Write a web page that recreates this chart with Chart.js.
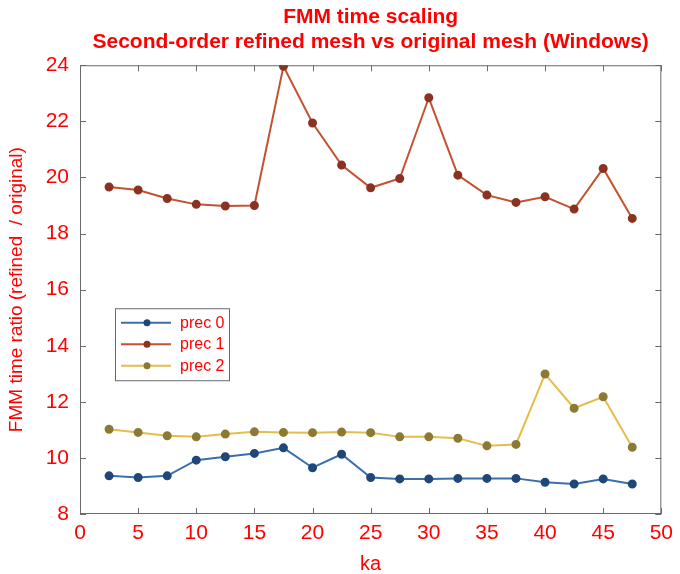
<!DOCTYPE html>
<html>
<head>
<meta charset="utf-8">
<script src="https://cdn.jsdelivr.net/npm/chart.js@4/dist/chart.umd.min.js"></script>
<style>
  html, body { margin: 0; padding: 0; background: #fff; }
  #wrap { width: 680px; height: 574px; }
</style>
</head>
<body>
<div id="wrap"><canvas id="fmm"></canvas></div>
<script>
"use strict";

// ka values (x) and time ratio refined/original for each precision
const ka = [2.5, 5, 7.5, 10, 12.5, 15, 17.5, 20, 22.5, 25, 27.5, 30, 32.5, 35, 37.5, 40, 42.5, 45, 47.5];
const prec0 = [9.36, 9.30, 9.36, 9.92, 10.04, 10.16, 10.36, 9.65, 10.13, 9.30, 9.25, 9.25, 9.27, 9.27, 9.27, 9.13, 9.07, 9.25, 9.07];
const prec1 = [19.66, 19.55, 19.25, 19.04, 18.98, 19.0, 23.96, 21.94, 20.44, 19.63, 19.96, 22.84, 20.08, 19.37, 19.11, 19.31, 18.87, 20.32, 18.54];
const prec2 = [11.02, 10.91, 10.79, 10.75, 10.85, 10.93, 10.91, 10.90, 10.92, 10.90, 10.75, 10.75, 10.70, 10.43, 10.48, 12.99, 11.77, 12.18, 10.38];

const seriesNames = ["prec 0", "prec 1", "prec 2"];
const xTicks = [0, 5, 10, 15, 20, 25, 30, 35, 40, 45, 50];
const yTicks = [8, 10, 12, 14, 16, 18, 20, 22, 24];

const LINE = ["#3a6fae", "#c4512f", "#e6bd4a"];
const DOT = ["#1f4778", "#8a3322", "#8c7a34"];
const RED = "#ff0000";
const FONT = "'Liberation Sans', Arial, Helvetica, sans-serif";

function series(i, values) {
  return {
    label: seriesNames[i],
    data: ka.map((x, k) => ({ x, y: values[k] })),
    borderColor: LINE[i],
    backgroundColor: DOT[i],
    pointBackgroundColor: DOT[i],
    pointBorderColor: DOT[i],
    borderWidth: 2,
    pointRadius: 3.5,
    tension: 0,
  };
}

// box around the plot with short inward ticks on all four sides
const axesBox = {
  id: "axesBox",
  beforeDatasetsDraw(chart) {
    const { ctx, chartArea: a, scales } = chart;
    ctx.save();
    ctx.strokeStyle = "#6a6a6a";
    ctx.lineWidth = 1;
    ctx.strokeRect(a.left + 0.5, a.top + 0.5, a.right - a.left - 1, a.bottom - a.top - 1);
    ctx.beginPath();
    const len = 6;
    xTicks.forEach((v) => {
      const px = Math.round(scales.x.getPixelForValue(v)) + 0.5;
      ctx.moveTo(px, a.bottom); ctx.lineTo(px, a.bottom - len);
      ctx.moveTo(px, a.top); ctx.lineTo(px, a.top + len);
    });
    yTicks.forEach((v) => {
      const py = Math.round(scales.y.getPixelForValue(v)) + 0.5;
      ctx.moveTo(a.left, py); ctx.lineTo(a.left + len, py);
      ctx.moveTo(a.right, py); ctx.lineTo(a.right - len, py);
    });
    ctx.stroke();
    ctx.restore();
  },
};

// legend box sitting inside the plot, left of centre
const insideLegend = {
  id: "insideLegend",
  afterDraw(chart) {
    const { ctx, chartArea: a } = chart;
    const x0 = a.left + 35, y0 = a.top + 243;
    const w = 114, h = 72, row = 21.5;
    ctx.save();
    ctx.fillStyle = "#fff";
    ctx.fillRect(x0, y0, w, h);
    ctx.strokeStyle = "#6a6a6a";
    ctx.lineWidth = 1;
    ctx.strokeRect(x0 + 0.5, y0 + 0.5, w, h);
    chart.data.datasets.forEach((ds, i) => {
      const cy = y0 + 14.5 + i * row;
      ctx.strokeStyle = ds.borderColor;
      ctx.lineWidth = 2;
      ctx.beginPath();
      ctx.moveTo(x0 + 6, cy);
      ctx.lineTo(x0 + 56, cy);
      ctx.stroke();
      ctx.fillStyle = ds.pointBackgroundColor;
      ctx.beginPath();
      ctx.arc(x0 + 32, cy, 3.5, 0, Math.PI * 2);
      ctx.fill();
      ctx.fillStyle = RED;
      ctx.font = "16px " + FONT;
      ctx.textBaseline = "middle";
      ctx.fillText(ds.label, x0 + 65, cy + 0.5);
    });
    ctx.restore();
  },
};

new Chart(document.getElementById("fmm"), {
  type: "line",
  data: { datasets: [series(0, prec0), series(1, prec1), series(2, prec2)] },
  options: {
    responsive: true,
    maintainAspectRatio: false,
    animation: false,
    layout: { padding: { left: 0, right: 14, top: 0, bottom: 0 } },
    plugins: {
      legend: { display: false },
      tooltip: { enabled: false },
      title: {
        display: true,
        fullSize: false,
        text: ["FMM time scaling", "Second-order refined mesh vs original mesh (Windows)"],
        color: RED,
        font: { family: FONT, size: 21, weight: "bold", lineHeight: 1.22 },
        padding: { top: 4, bottom: 10 },
      },
    },
    scales: {
      x: {
        type: "linear",
        min: 0,
        max: 50,
        afterFit(s) { s.height = 60; },
        afterBuildTicks(s) { s.ticks = xTicks.map((v) => ({ value: v })); },
        grid: { display: false, drawTicks: false },
        border: { display: false },
        ticks: { color: RED, font: { family: FONT, size: 21 }, padding: 7, maxRotation: 0 },
        title: { display: true, text: "ka", color: RED, font: { family: FONT, size: 20 }, padding: { top: 0, bottom: -2 } },
      },
      y: {
        type: "linear",
        min: 8,
        max: 24,
        afterFit(s) { s.width = 80; },
        afterBuildTicks(s) { s.ticks = yTicks.map((v) => ({ value: v })); },
        grid: { display: false, drawTicks: false },
        border: { display: false },
        ticks: { color: RED, font: { family: FONT, size: 21 }, padding: 11 },
        title: { display: true, text: "FMM time ratio (refined  / original)", color: RED, font: { family: FONT, size: 19 }, padding: { top: 5, bottom: 0 } },
      },
    },
  },
  plugins: [axesBox, insideLegend],
});
</script>
</body>
</html>
